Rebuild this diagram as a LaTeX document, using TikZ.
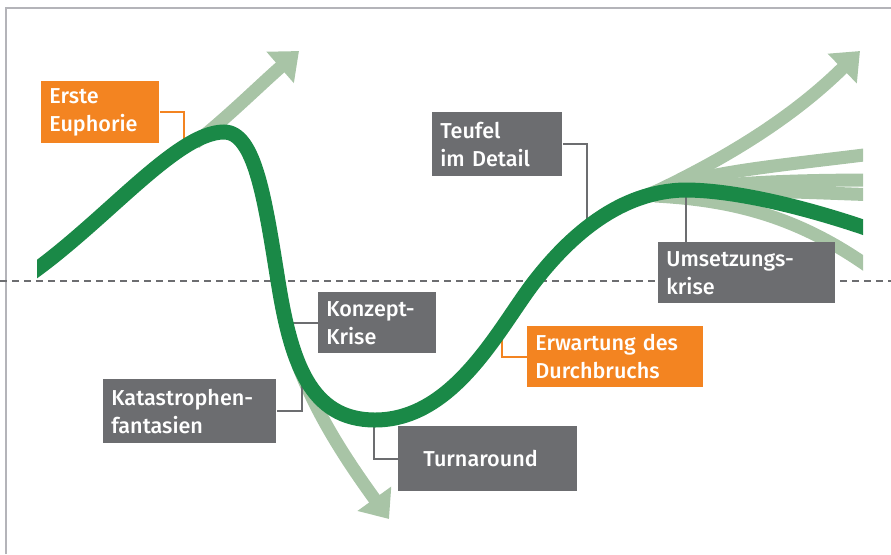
\documentclass[tikz,border=0pt]{standalone}
\usepackage{fontspec}
\setmainfont{Fira Sans Medium}
\usetikzlibrary{arrows.meta,calc}
\definecolor{darkgreen}{HTML}{1A8947}
\definecolor{lightgreen}{HTML}{A8C4A6}
\definecolor{boxgray}{HTML}{6C6D70}
\definecolor{boxorange}{HTML}{F38421}
\definecolor{framegray}{HTML}{B4B4B9}

\begin{document}
\begin{tikzpicture}[
    x=0.5pt, y=-0.5pt,
    band/.style={draw=lightgreen, line width=6.5pt},
    bandarrow/.style={band, -{Triangle[length=12.5pt, width=20pt]}},
    mainline/.style={draw=darkgreen, line width=7.5pt},
    label/.style={
        anchor=north west, inner xsep=4pt, inner ysep=0pt, align=left,
        text=white, font=\fontsize{10.8pt}{14pt}\selectfont
    },
    graybox/.style={label, fill=boxgray},
    orangebox/.style={label, fill=boxorange},
    graylink/.style={draw=boxgray, line width=1pt},
    orangelink/.style={draw=boxorange, line width=1pt}
]

\useasboundingbox (0,0) rectangle (891,554);

% ==================== FRAME AND BASELINE ====================
\draw[framegray, line width=1pt] (6,554) -- (6,8) -- (891,8);
\draw[boxgray, line width=1pt, dash pattern=on 3.5pt off 2.5pt] (0,281) -- (891,281);

% ==================== LIGHT BRANCHES ====================
\begin{scope}
    \clip (37,0) rectangle (863,554);
    \draw[bandarrow] (195,143) .. controls (230,115) and (260,85) .. (299,51);
    \draw[bandarrow] (298,365) .. controls (318,418) and (350,465) .. (389,519);
    \draw[bandarrow] (642,198) .. controls (720,162) and (790,120) .. (860,51);
    \draw[band] (645,196) .. controls (700,172) and (760,168) .. (880,153);
    \draw[band] (650,196) .. controls (710,183) and (780,180) .. (880,180);
    \draw[band] (660,196) .. controls (730,188) and (790,192) .. (880,195);
    \draw[band] (655,196) .. controls (730,200) and (800,215) .. (880,275);
\end{scope}

% ==================== LABELS ====================
\node[orangebox, minimum height=31pt, text width=51pt] (euph) at (41,81) {Erste\\Euphorie};
\node[graybox, minimum height=32pt, text width=57pt] (teufel) at (432,112) {Teufel\\im Detail};
\node[graybox, minimum height=30.5pt, text width=80.5pt] (umsetz) at (658,242) {Umsetzungs-\\krise};
\node[graybox, minimum height=30.5pt, text width=51pt] (konzept) at (318,292) {Konzept-\\Krise};
\node[graybox, minimum height=32pt, text width=78.5pt] (kata) at (103,379) {Katastrophen-\\fantasien};
\node[graybox, minimum height=32.5pt, inner xsep=12.5pt, text width=64.5pt] (turn) at (398,426) {Turnaround};
\node[orangebox, minimum height=30.5pt, text width=80pt] (erw) at (527,326) {Erwartung des\\Durchbruchs};

% points where the leaders meet the curve
\coordinate (pEuph) at (184,142);
\coordinate (pTeufel) at (587,227);
\coordinate (pUms) at (686,196);
\coordinate (pKonz) at (293,322);
\coordinate (pKata) at (302,380);
\coordinate (pTurn) at (374,420);
\coordinate (pErw) at (502,331);

\draw[orangelink] (euph.east) -| (pEuph);
\draw[graylink] (teufel.east) -| (pTeufel);
\draw[graylink] (pUms) -- (pUms |- umsetz.north);
\draw[graylink] (konzept.west) -- (pKonz |- konzept.west);
\draw[graylink] (kata.east) -| (pKata);
\draw[graylink] (turn.west) -| (pTurn);
\draw[orangelink] (erw.west) -| (pErw);

% ==================== MAIN CURVE ====================
\begin{scope}
    \clip (37,0) rectangle (863,554);
    \draw[mainline] (20,281) .. controls (100,228) and (175,132) .. (224,132)
        .. controls (255,132) and (265,200) .. (278,281)
        .. controls (291,362) and (310,420) .. (375,420)
        .. controls (455,420) and (500,326) .. (535,281)
        .. controls (570,236) and (620,191) .. (685,190)
        .. controls (745,190) and (830,215) .. (880,233);
\end{scope}

\end{tikzpicture}
\end{document}
